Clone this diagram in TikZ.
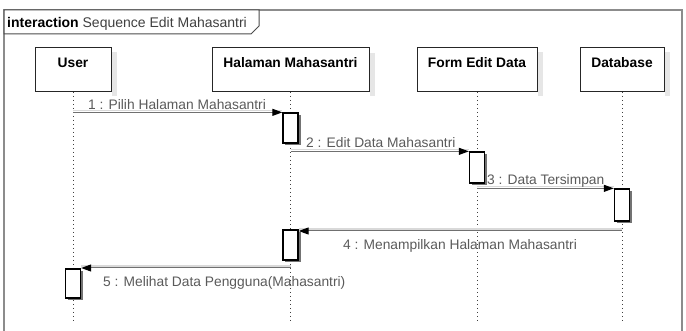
\documentclass[tikz,border=0pt]{standalone}
\usepackage{fontspec}
\setmainfont{Liberation Sans}
\usetikzlibrary{arrows.meta}
\definecolor{framegray}{HTML}{8C8C8C}
\definecolor{msggray}{HTML}{707070}
\definecolor{txtgray}{HTML}{5A5A5A}
\definecolor{shade}{HTML}{E6E6E6}
\begin{document}
\begin{tikzpicture}[x=1pt,y=-1pt,
  headbox/.style={draw=black!85, line width=1pt, fill=white, anchor=north,
    minimum height=44pt, text height=16pt, text depth=20pt, inner ysep=4pt,
    font=\bfseries\fontsize{13.8}{15}\selectfont},
  headshadow/.style={fill=shade, draw=none},
  lifeline/.style={draw=black!75, line width=0.9pt, dash pattern=on 1.5pt off 2.5pt},
  actbox/.style={draw=black, line width=1.3pt, fill=white, minimum width=15pt,
    inner sep=0pt},
  actshadow/.style={fill=black!55, draw=none},
  msg/.style={draw=msggray, line width=1pt,
    -{Triangle[length=10pt,width=7pt,color=black,fill=black]}},
  msgshadow/.style={draw=black!15, line width=1.2pt},
  msglabel/.style={text=txtgray, font=\fontsize{13.8}{16}\selectfont, inner sep=0pt}
]
\useasboundingbox (0,0) rectangle (686,331);
\clip (0,0) rectangle (686,331);

% interaction frame and its tab
\draw[framegray, line width=1.6pt] (4,10) rectangle (682,345);
\draw[black!70, line width=1pt, fill=white]
  (4,10) -- (259,10) -- (259,26) -- (251,34) -- (4,34) -- cycle;
\node[anchor=base west, inner sep=0pt, font=\fontsize{14}{16}\selectfont]
  (title) at (7,28) {\textbf{interaction} \textcolor{black!75}{Sequence Edit Mahasantri}};

% lifeline heads with their shadows
\fill[headshadow] (112,52) rectangle (117,96);
\fill[headshadow] (370,53) rectangle (375,96);
\fill[headshadow] (538,52) rectangle (543,96);
\fill[headshadow] (665,52) rectangle (670,96);
\node[headbox, minimum width=76pt]  (user) at (73,47)    {User};
\node[headbox, minimum width=157pt] (hal)  at (290.5,47) {Halaman Mahasantri};
\node[headbox, minimum width=120pt] (form) at (477,47)   {Form Edit Data};
\node[headbox, minimum width=84pt]  (db)   at (622,47)   {Database};

% lifelines
\coordinate (userend) at (user.south |- 0,322);
\coordinate (halend)  at (hal.south  |- 0,322);
\coordinate (formend) at (form.south |- 0,322);
\coordinate (dbend)   at (db.south   |- 0,322);
\draw[lifeline] (user.south) -- (userend);
\draw[lifeline] (hal.south)  -- (halend);
\draw[lifeline] (form.south) -- (formend);
\draw[lifeline] (db.south)   -- (dbend);

% activation shadows
\fill[actshadow] (285,115) rectangle (300.5,145);
\fill[actshadow] (471.5,154) rectangle (486.5,185);
\fill[actshadow] (616.5,191) rectangle (631.5,223);
\fill[actshadow] (285,232) rectangle (300.5,262);
\fill[actshadow] (68,271) rectangle (83,300);

% activations
\node[actbox, minimum height=30pt] (act1) at (290.5,128)   {};
\node[actbox, minimum height=31pt] (act2) at (477,167.5)   {};
\node[actbox, minimum height=32pt] (act3) at (622,205)     {};
\node[actbox, minimum height=30pt] (act4) at (290.5,245)   {};
\node[actbox, minimum height=29pt] (act5) at (73,283.5)    {};

% message end points on the lifelines
\coordinate (m1s) at (user.south |- act1.north);
\coordinate (m2s) at (hal.south  |- act2.north);
\coordinate (m3s) at (form.south |- act3.north);
\coordinate (m4s) at (db.south   |- 0,231);
\coordinate (m4e) at (act4.east  |- 0,231);
\coordinate (m5s) at (hal.south  |- 0,268);
\coordinate (m5e) at (act5.east  |- 0,268);

% message shadows
\draw[msgshadow] ([yshift=2pt]m1s) -- ([yshift=2pt]act1.north west);
\draw[msgshadow] ([yshift=2pt]m2s) -- ([yshift=2pt]act2.north west);
\draw[msgshadow] ([yshift=2pt]m3s) -- ([yshift=2pt]act3.north west);
\draw[msgshadow] ([yshift=2pt]m4s) -- ([yshift=2pt]m4e);
\draw[msgshadow] ([yshift=2pt]m5s) -- ([yshift=2pt]m5e);

% messages
\draw[msg] (m1s) -- (act1.north west);
\draw[msg] (m2s) -- (act2.north west);
\draw[msg] (m3s) -- (act3.north west);
\draw[msg] (m4s) -- (m4e);
\draw[msg] (m5s) -- (m5e);

% message labels
\node[msglabel, anchor=base west] (l1) at (88,110)  {1 : Pilih Halaman Mahasantri};
\node[msglabel, anchor=base west] (l2) at (306,148) {2 : Edit Data Mahasantri};
\node[msglabel, anchor=base west] (l3) at (487,185) {3 : Data Tersimpan};
\node[msglabel, anchor=base west] (l4) at (343,250) {4 : Menampilkan Halaman Mahasantri};
\node[msglabel, anchor=base west] (l5) at (103,287) {5 : Melihat Data Pengguna(Mahasantri)};
\end{tikzpicture}
\end{document}
